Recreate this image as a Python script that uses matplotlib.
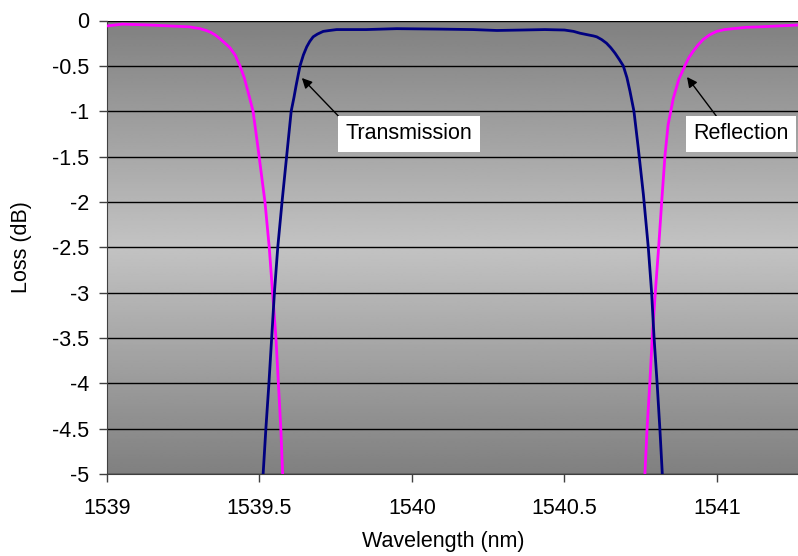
import numpy as np
import matplotlib
matplotlib.use('Agg')
import matplotlib.pyplot as plt

plt.rcParams['font.family'] = ['Liberation Sans', 'DejaVu Sans']
plt.rcParams['axes.unicode_minus'] = False

# transmission (navy)
trans_wl = [1539.512, 1539.521, 1539.531, 1539.540, 1539.549, 1539.560, 1539.574,
            1539.589, 1539.604, 1539.613, 1539.620, 1539.627, 1539.633, 1539.644,
            1539.655, 1539.665, 1539.676, 1539.690, 1539.709, 1539.730, 1539.753,
            1539.850, 1539.950, 1540.092, 1540.200, 1540.279, 1540.360, 1540.436,
            1540.500, 1540.530, 1540.551, 1540.580, 1540.595, 1540.606, 1540.622,
            1540.638, 1540.652, 1540.666, 1540.680, 1540.693, 1540.705, 1540.715,
            1540.728, 1540.742, 1540.759, 1540.775, 1540.786, 1540.794, 1540.804,
            1540.813, 1540.821]
trans_loss = [-5.0, -4.5, -4.0, -3.5, -3.0, -2.5, -2.0,
              -1.5, -1.0, -0.85, -0.72, -0.60, -0.50, -0.38,
              -0.29, -0.23, -0.18, -0.15, -0.12, -0.11, -0.10,
              -0.10, -0.09, -0.095, -0.10, -0.11, -0.105, -0.10,
              -0.105, -0.12, -0.14, -0.16, -0.17, -0.18, -0.21,
              -0.25, -0.30, -0.36, -0.43, -0.50, -0.63, -0.78,
              -1.0, -1.4, -1.92, -2.5, -3.0, -3.5, -4.0,
              -4.5, -5.0]

# reflection (magenta), left and right skirts
refl_wl_left = [1539.000, 1539.050, 1539.141, 1539.207, 1539.270, 1539.305, 1539.325,
                1539.340, 1539.355, 1539.370, 1539.387, 1539.403, 1539.420, 1539.436,
                1539.450, 1539.462, 1539.479, 1539.495, 1539.518, 1539.532, 1539.543,
                1539.554, 1539.562, 1539.570, 1539.576]
refl_loss_left = [-0.06, -0.04, -0.05, -0.06, -0.07, -0.09, -0.11,
                  -0.13, -0.16, -0.20, -0.25, -0.30, -0.38, -0.50,
                  -0.63, -0.78, -1.00, -1.40, -2.00, -2.50, -3.00,
                  -3.50, -4.00, -4.50, -5.00]
refl_wl_right = [1540.764, 1540.771, 1540.780, 1540.788, 1540.798, 1540.809, 1540.819,
                 1540.830, 1540.840, 1540.857, 1540.875, 1540.895, 1540.908, 1540.922,
                 1540.938, 1540.955, 1540.975, 1540.999, 1541.025, 1541.053, 1541.097,
                 1541.141, 1541.200, 1541.266]
refl_loss_right = [-5.0, -4.5, -4.0, -3.5, -3.0, -2.5, -2.0,
                   -1.48, -1.15, -0.86, -0.65, -0.50, -0.41, -0.34,
                   -0.27, -0.21, -0.16, -0.12, -0.10, -0.09, -0.075,
                   -0.07, -0.06, -0.05]

x_ticks = [1539, 1539.5, 1540, 1540.5, 1541]
x_labels = ['1539', '1539.5', '1540', '1540.5', '1541']
y_ticks = [0, -0.5, -1, -1.5, -2, -2.5, -3, -3.5, -4, -4.5, -5]
y_labels = ['0', '-0.5', '-1', '-1.5', '-2', '-2.5', '-3', '-3.5', '-4', '-4.5', '-5']

fig = plt.figure(figsize=(7.98, 5.56), dpi=100)
ax = fig.add_axes([107/798, (556-474)/556, 691/798, 453.5/556])

xmin, xmax = 1539, 1541.266
ax.set_xlim(xmin, xmax)
ax.set_ylim(-5, 0)

# gray gradient background, dark at top/bottom, light in the middle
t = np.linspace(0, 1, 256)
grad = 128 + 67 * (1 - np.abs(2 * t - 1))
grad = (grad / 255.0)[:, None]
ax.imshow(grad, cmap='gray', vmin=0, vmax=1, aspect='auto',
          extent=[xmin, xmax, -5, 0], zorder=0, interpolation='bilinear')

for y in y_ticks:
    ax.axhline(y, color='black', lw=1, zorder=1)

ax.plot(refl_wl_left, refl_loss_left, color='#FF00FF', lw=2, zorder=3,
        solid_joinstyle='round')
ax.plot(refl_wl_right, refl_loss_right, color='#FF00FF', lw=2, zorder=3,
        solid_joinstyle='round')
ax.plot(trans_wl, trans_loss, color='#000080', lw=2, zorder=4,
        solid_joinstyle='round')

ax.set_xticks(x_ticks, x_labels)
ax.set_yticks(y_ticks, y_labels)
ax.tick_params(axis='both', direction='out', length=6, width=1, color='#404040',
               labelsize=15.5)
ax.tick_params(axis='y', pad=7)
ax.tick_params(axis='x', pad=11)

for s in ['top', 'right']:
    ax.spines[s].set_visible(False)
ax.spines['left'].set_color('#404040')
ax.spines['bottom'].set_color('#404040')

ax.set_xlabel('Wavelength (nm)', fontsize=15.5)
ax.set_ylabel('Loss (dB)', fontsize=15.5)
ax.xaxis.set_label_coords((443-107)/691, -(541-474)/453.5)
ax.xaxis.label.set_va('center')
ax.yaxis.set_label_coords((22-107)/691, 0.5)
ax.yaxis.label.set_va('center')

box = dict(boxstyle='square,pad=0.35', fc='white', ec='none')
ax.annotate('Transmission', xy=(1539.639, -0.634), xytext=(1539.990, -1.251),
            ha='center', va='center', fontsize=15.5, bbox=box, zorder=6,
            arrowprops=dict(arrowstyle='-|>', color='black', lw=1, relpos=(0, 1),
                            shrinkA=0, shrinkB=0, mutation_scale=15))
ax.annotate('Reflection', xy=(1540.902, -0.623), xytext=(1541.079, -1.251),
            ha='center', va='center', fontsize=15.5, bbox=box, zorder=6,
            annotation_clip=False,
            arrowprops=dict(arrowstyle='-|>', color='black', lw=1, relpos=(0.3, 1),
                            shrinkA=0, shrinkB=0, mutation_scale=15))

fig.savefig('out.png', dpi=100)
